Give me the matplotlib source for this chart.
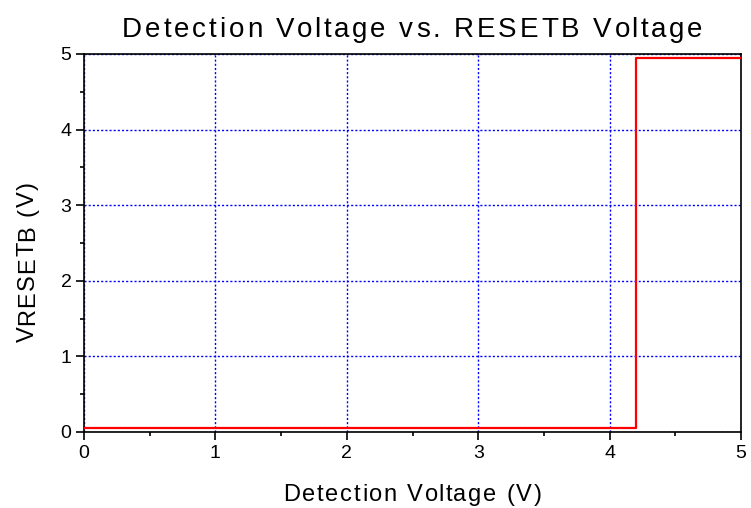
import numpy as np
import matplotlib.pyplot as plt
from matplotlib.ticker import MultipleLocator
from matplotlib.font_manager import FontProperties

plt.rcParams['font.family'] = ['Liberation Sans', 'DejaVu Sans']

# 数据
detect_v = [0.0, 4.2, 4.2, 5.0]
resetb_v = [0.05, 0.05, 4.95, 4.95]
ticks = [0, 1, 2, 3, 4, 5]

title_txt = 'Detection Voltage vs. RESETB Voltage'
xlabel_txt = 'Detection Voltage (V)'
ylabel_txt = 'VRESETB (V)'

W, H = 751, 508


def tracked_text(fig, s, cx, cy, size, track, vertical=False):
    """带字距的文字: cx, cy 为像素 (原点左上), 水平时 cy 为基线, 竖排时 cx 为基线"""
    r = fig.canvas.get_renderer()
    prop = FontProperties(family='Liberation Sans', size=size)

    def w(t):
        return r.get_text_width_height_descent(t, prop, ismath=False)[0]

    wI = w('I')
    offs = [w(s[:i] + 'I') - wI if i else 0.0 for i in range(len(s))]
    total = w(s) + track * (len(s) - 1)
    for i, ch in enumerate(s):
        if ch == ' ':
            continue
        d = offs[i] + track * i - total / 2
        if vertical:
            fig.text(cx / W, 1 - (cy - d) / H, ch, fontproperties=prop,
                     rotation=90, rotation_mode='anchor', ha='left', va='baseline')
        else:
            fig.text((cx + d) / W, 1 - cy / H, ch, fontproperties=prop,
                     ha='left', va='baseline')


fig = plt.figure(figsize=(W / 100, H / 100), dpi=100)
ax = fig.add_axes([84 / W, 1 - 432 / H, (741 - 84) / W, (432 - 54) / H])

ax.plot(detect_v, resetb_v, color='red', linewidth=1.6, zorder=3)

ax.set_xlim(0, 5)
ax.set_ylim(0, 5)
ax.set_xticks(ticks)
ax.set_yticks(ticks)
ax.xaxis.set_minor_locator(MultipleLocator(0.5))
ax.yaxis.set_minor_locator(MultipleLocator(0.5))
ax.tick_params(which='major', direction='out', length=6, width=1.2, labelsize=14, pad=3)
ax.tick_params(which='minor', direction='out', length=3, width=1.2)
ax.grid(True, which='major', color='blue', linestyle=(0, (1.5, 1.5)), linewidth=1.0)
for s in ax.spines.values():
    s.set_linewidth(1.2)

tracked_text(fig, title_txt, 412.5, 37, 20, 2.9)
tracked_text(fig, xlabel_txt, 412.5, 501, 17, 1.7)
tracked_text(fig, ylabel_txt, 34, 262, 17, 1.2, vertical=True)

fig.savefig('out.png', dpi=100)
